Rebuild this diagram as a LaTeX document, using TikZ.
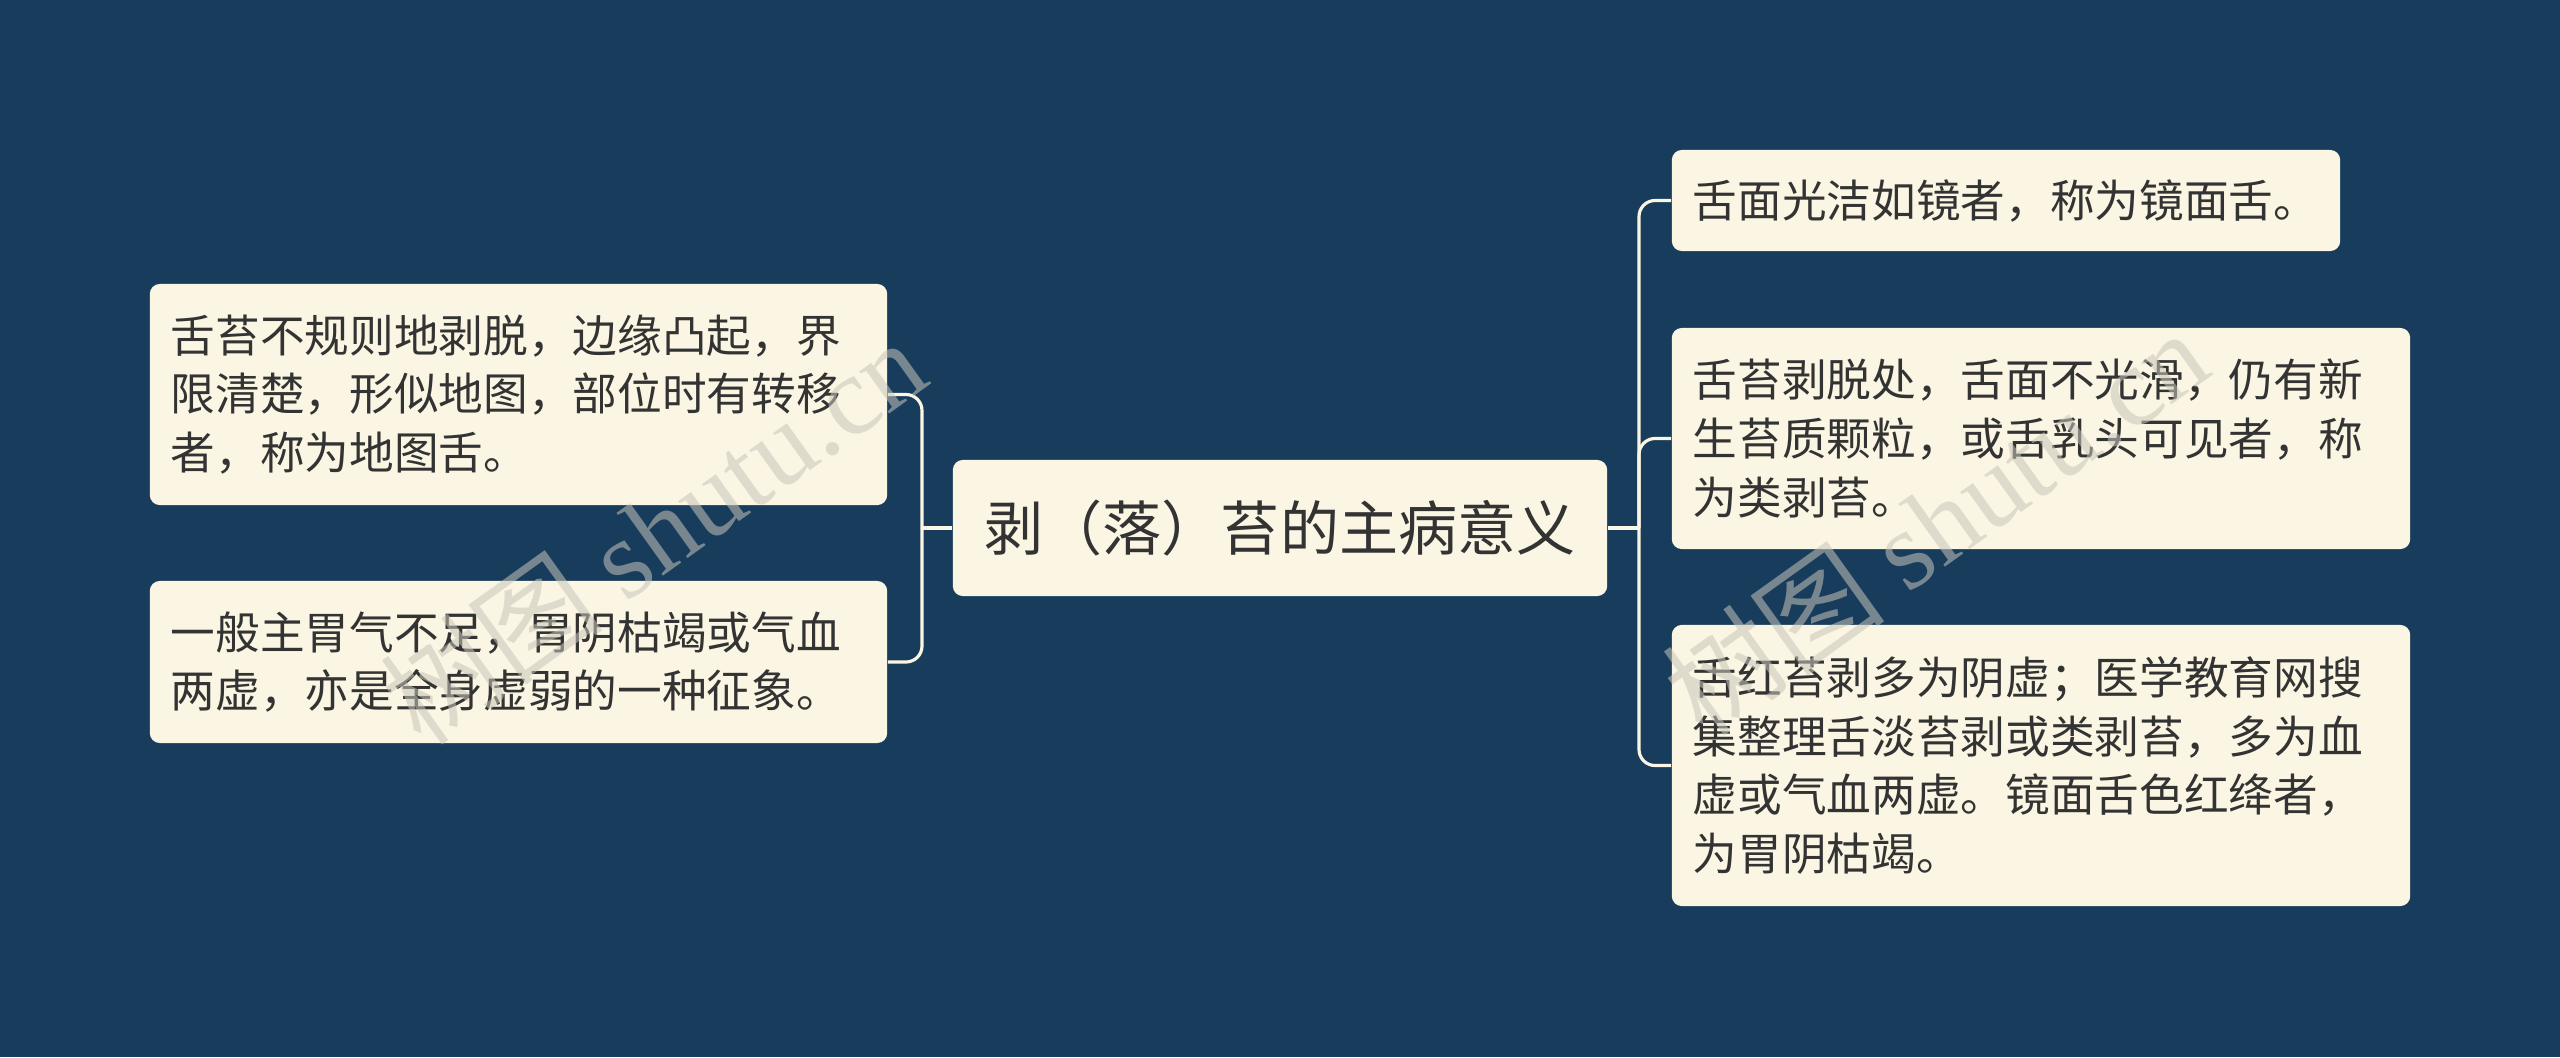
\documentclass[tikz,border=0pt]{standalone}
\usepackage{fontspec}
\setmainfont{Noto Sans CJK SC}
\newfontfamily\wmlatin{Liberation Serif}
\usepackage{tikz}
\definecolor{bgblue}{RGB}{23,60,92}
\definecolor{cream}{RGB}{250,246,227}
\definecolor{inkgray}{RGB}{51,51,51}
\definecolor{wmgray}{RGB}{200,198,186}

\begin{document}
\begin{tikzpicture}[x=0.01cm,y=-0.01cm,
  leaf/.style={fill=cream,rounded corners=0.1cm,text=inkgray,align=left,
    inner xsep=0.21cm,inner ysep=0pt,anchor=center,
    font=\fontsize{12.7}{16.7}\selectfont},
  root/.style={leaf,font=\fontsize{16.8}{20}\selectfont,align=center},
  link/.style={draw=cream,line width=0.9pt,rounded corners=0.16cm},
  wmark/.style={text=wmgray,opacity=0.55,rotate=35.6,font=\fontsize{32}{32}\selectfont}]

\useasboundingbox (0,0) rectangle (2560,1057);
\fill[bgblue] (0,0) rectangle (2560,1057);

\node[root,minimum width=6.54cm,minimum height=1.36cm] (root) at (1280,528) {剥（落）苔的主病意义};

\node[leaf,text width=6.95cm,minimum height=2.21cm] (l1) at (518.5,394.5)
  {舌苔不规则地剥脱，边缘凸起，界\\限清楚，形似地图，部位时有转移\\者，称为地图舌。};
\node[leaf,text width=6.95cm,minimum height=1.62cm] (l2) at (518.5,662)
  {一般主胃气不足，胃阴枯竭或气血\\两虚，亦是全身虚弱的一种征象。};

\node[leaf,text width=6.26cm,minimum height=1.01cm] (r1) at (2006,200.5)
  {舌面光洁如镜者，称为镜面舌。};
\node[leaf,text width=6.96cm,minimum height=2.21cm] (r2) at (2041,438.5)
  {舌苔剥脱处，舌面不光滑，仍有新\\生苔质颗粒，或舌乳头可见者，称\\为类剥苔。};
\node[leaf,text width=6.96cm,minimum height=2.81cm] (r3) at (2041,765.5)
  {舌红苔剥多为阴虚；医学教育网搜\\集整理舌淡苔剥或类剥苔，多为血\\虚或气血两虚。镜面舌色红绛者，\\为胃阴枯竭。};

\coordinate (lj) at (922,528);
\coordinate (rj) at (1639,528);

\draw[link] (root.west) -- (lj);
\draw[link] (lj) |- (l1.east);
\draw[link] (lj) |- (l2.east);

\draw[link] (root.east) -- (rj);
\draw[link] (rj) |- (r1.west);
\draw[link] (rj) |- (r2.west);
\draw[link] (rj) |- (r3.west);

\node[wmark] (wm1) at (653,531) {树图 {\wmlatin shutu.cn}};
\node[wmark] (wm2) at (1935,522) {树图 {\wmlatin shutu.cn}};
\end{tikzpicture}
\end{document}
